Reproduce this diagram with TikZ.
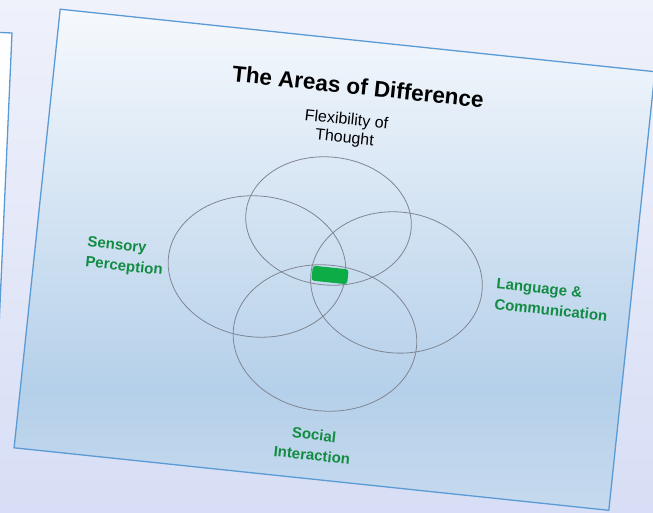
\documentclass[tikz,border=0pt]{standalone}
\usepackage{fontspec}
\setmainfont{Liberation Sans}
\usetikzlibrary{shapes.geometric}

\definecolor{slideblue}{RGB}{91,155,213}
\definecolor{areagreen}{RGB}{18,140,66}
\definecolor{blobgreen}{RGB}{14,172,70}
\definecolor{ringgray}{RGB}{128,134,146}
\definecolor{bgtop}{RGB}{239,241,251}
\definecolor{bgbot}{RGB}{215,222,245}
\definecolor{filltop}{RGB}{246,249,253}
\definecolor{fillmid}{RGB}{181,208,234}
\definecolor{fillbot}{RGB}{198,218,238}
\pgfdeclareverticalshading{slidefill}{100bp}{color(0bp)=(fillbot); color(25bp)=(fillbot);
  color(37bp)=(fillmid); color(75bp)=(filltop); color(100bp)=(filltop)}

\begin{document}
\begin{tikzpicture}[x=1pt, y=-1pt,
  ring/.style={ellipse, draw=ringgray, line width=0.8pt, inner sep=0pt},
  areaname/.style={text=areagreen, font=\bfseries\fontsize{15}{20.5}\selectfont, inner sep=0pt},
  edge/.style={draw=slideblue, line width=1.3pt}]
  \useasboundingbox (0,0) rectangle (653,512);
  \clip (0,0) rectangle (653,512);
  \shade[top color=bgtop, bottom color=bgbot] (0,0) rectangle (653,512);

  % slide behind, on the left
  \draw[edge, fill=white!96!bgtop] (-10,32) -- (12,33) -- (-6,440) -- (-10,440) -- cycle;

  \begin{scope}[shift={(334.5,259.75)}, rotate=-6, transform shape]
    \shade[shading=slidefill] (-299,-220.5) rectangle (299,220.5);
    \draw[edge] (-299,-220.5) rectangle (299,220.5);

    \node[font=\bfseries\fontsize{22.5}{27}\selectfont, inner sep=0pt] (title) at (5.3,-174.8) {The Areas of Difference};
    \node[font=\fontsize{16}{18.5}\selectfont, align=center, inner sep=0pt] (flex) at (-2.7,-130.6) {Flexibility of\\Thought};

    \node[ring, minimum width=166, minimum height=128] (ftop) at (-10,-37.9) {};
    \node[ring, minimum width=178, minimum height=141] (fleft) at (-76.4,14.8) {};
    \node[ring, minimum width=172, minimum height=141] (fright) at (64,16.1) {};
    \node[ring, minimum width=184, minimum height=146] (fbottom) at (-1.3,78.8) {};
    \node[fill=blobgreen, rounded corners=3pt, minimum width=36, minimum height=15, inner sep=0pt] (blob) at (-2.9,15.6) {};

    \node[areaname, align=left] (sense) at (-208.6,19.2) {Sensory\\Perception};
    \node[areaname, align=left] (lang) at (220.5,17.3) {Language \&\\Communication};
    \node[areaname, align=center] (social) at (-2,186.5) {Social\\Interaction};
  \end{scope}
\end{tikzpicture}
\end{document}
